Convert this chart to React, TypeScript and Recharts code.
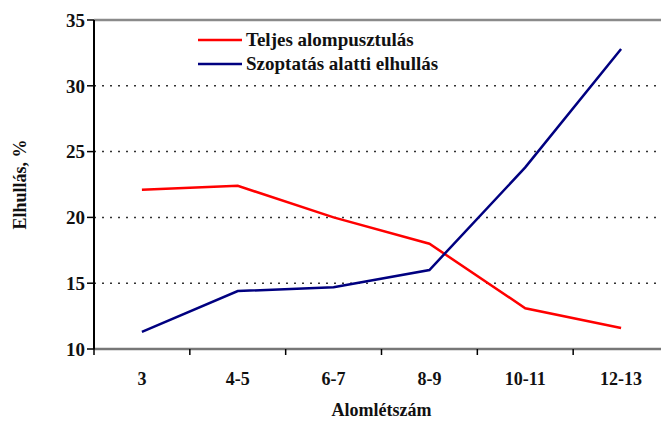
import {
  LineChart,
  Line,
  XAxis,
  YAxis,
  CartesianGrid,
  ReferenceLine,
  Legend,
} from 'recharts';

const FONT = "'Liberation Serif', Tinos, 'Times New Roman', 'DejaVu Serif', serif";

const litterSizes = ['3', '4-5', '6-7', '8-9', '10-11', '12-13'];
const totalLoss = [22.1, 22.4, 20.0, 18.0, 13.1, 11.6];
const sucklingLoss = [11.3, 14.4, 14.7, 16.0, 23.8, 32.8];
const yTicks = [10, 15, 20, 25, 30, 35];

const series = [
  { key: 'total', name: 'Teljes alompusztulás', color: '#ff0000' },
  { key: 'suckling', name: 'Szoptatás alatti elhullás', color: '#000080' },
];

const data = litterSizes.map((name, i) => ({
  name,
  total: totalLoss[i],
  suckling: sucklingLoss[i],
}));

// category label in the middle of the band, tick mark on the band edges
function BandTick(props: any) {
  const { x, y, payload, index, visibleTicksCount } = props;
  const off = payload?.offset ?? 0;
  const axisY = y - 8;
  const last = index === (visibleTicksCount ?? litterSizes.length) - 1;
  return (
    <g>
      <line x1={x - off} x2={x - off} y1={axisY} y2={axisY + 6} stroke="#000" strokeWidth={1.5} />
      {last && <line x1={x + off} x2={x + off} y1={axisY} y2={axisY + 6} stroke="#000" strokeWidth={1.5} />}
      <text x={x} y={y + 28} textAnchor="middle" fontFamily={FONT} fontWeight="bold" fontSize={18} fill="#111">
        {payload.value}
      </text>
    </g>
  );
}

function LegendBox() {
  return (
    <div style={{ fontFamily: FONT, fontWeight: 'bold', fontSize: 19, color: '#111' }}>
      {series.map((s) => (
        <div key={s.key} style={{ display: 'flex', alignItems: 'center', height: 24 }}>
          <svg width={46} height={6}>
            <line x1={0} x2={44} y1={3} y2={3} stroke={s.color} strokeWidth={2.5} />
          </svg>
          <span style={{ marginLeft: 2 }}>{s.name}</span>
        </div>
      ))}
    </div>
  );
}

export default function App() {
  return (
    <div style={{ position: 'absolute', left: 0, top: 0, width: 661, height: 421, overflow: 'hidden', background: '#fff' }}>
      <LineChart width={680} height={421} data={data} margin={{ top: 20, right: 11, bottom: 0, left: 0 }}>
        <CartesianGrid vertical={false} strokeDasharray="2 6" stroke="#333" strokeWidth={1.5} />
        <ReferenceLine y={35} stroke="#8a8a8a" strokeWidth={2.5} />
        <XAxis
          dataKey="name"
          scale="band"
          height={72}
          tickLine={false}
          axisLine={{ stroke: '#777', strokeWidth: 2.5 }}
          tick={<BandTick />}
          interval={0}
          label={{ value: 'Alomlétszám', position: 'insideBottom', offset: 5, fontFamily: FONT, fontWeight: 'bold', fontSize: 18, fill: '#111' }}
        />
        <YAxis
          width={94}
          domain={[10, 35]}
          ticks={yTicks}
          interval={0}
          tickSize={7}
          tickLine={{ stroke: '#000', strokeWidth: 1.5 }}
          axisLine={{ stroke: '#000', strokeWidth: 2 }}
          tick={{ fontFamily: FONT, fontWeight: 'bold', fontSize: 19, fill: '#111' }}
          label={({ viewBox }: any) => (
            <text
              x={20}
              y={viewBox.y + viewBox.height / 2}
              transform={`rotate(-90, 20, ${viewBox.y + viewBox.height / 2})`}
              textAnchor="middle"
              dominantBaseline="central"
              fontFamily={FONT}
              fontWeight="bold"
              fontSize={18}
              fill="#111"
            >
              Elhullás, %
            </text>
          )}
        />
        <Legend
          layout="vertical"
          align="center"
          verticalAlign="middle"
          content={<LegendBox />}
          wrapperStyle={{ left: 198, top: 28, width: 320 }}
        />
        {series.map((s) => (
          <Line
            key={s.key}
            type="linear"
            dataKey={s.key}
            name={s.name}
            stroke={s.color}
            strokeWidth={2.5}
            dot={false}
            isAnimationActive={false}
          />
        ))}
      </LineChart>
    </div>
  );
}
